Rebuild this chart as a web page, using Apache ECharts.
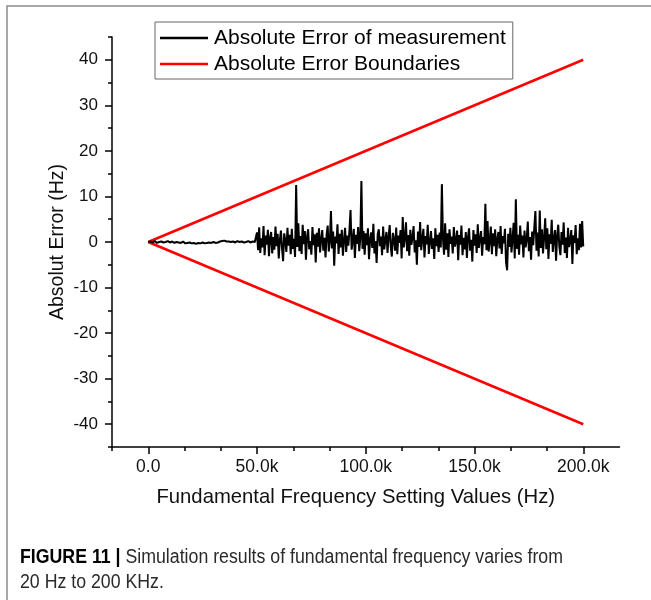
<!DOCTYPE html>
<html>
<head>
<meta charset="utf-8">
<script src="https://cdn.jsdelivr.net/npm/echarts@6/dist/echarts.min.js"></script>
<style>
html,body{margin:0;padding:0;background:#fff;}
#chart{width:651px;height:600px;}
</style>
</head>
<body>
<div id="chart"></div>
<script>
// ---- data ----
const legendNames = ['Absolute Error of measurement', 'Absolute Error Boundaries'];
// 20 Hz .. 49 kHz, 1 kHz step (small error region)
const lowValues = [0.0,0.1,-0.1,0.2,-0.2,0.0,0.1,-0.1,0.0,0.2,-0.1,0.1,-0.2,0.0,-0.1,-0.2,0.1,-0.3,-0.2,-0.1,
  -0.3,-0.2,-0.4,-0.2,-0.3,-0.1,-0.3,-0.2,-0.1,-0.2,0.0,-0.2,-0.1,0.1,0.2,0.3,0.1,0.1,0.0,0.1,
  -0.1,0.2,0.0,0.1,-0.1,0.0,0.2,-0.1,0.1,0.0];
// 50 kHz .. 200 kHz, 500 Hz step
const highValues = [
  2.1,-1.8,3.2,-2.4,0.8,-1.2,3.5,-2.9,1.4,-0.6,2.7,-3.1,0.9,2.2,-2.5,1.1,-1.7,3.4,-0.9,1.8,
  -3.6,0.4,2.5,-1.3,-4.2,1.9,0.3,-2.2,3.1,-0.8,1.6,-2.7,2.9,-1.5,0.7,-3.3,12.5,-1.1,4.1,-2.0,
  1.3,-2.6,3.8,-0.5,2.4,-3.9,1.0,2.8,-1.6,0.2,-2.8,3.3,-0.7,1.7,-4.5,2.0,-1.0,3.0,-2.3,0.6,
  2.6,-1.9,0.9,-3.4,1.5,3.6,-2.1,0.0,6.8,-1.4,2.3,-5.2,1.2,-0.3,3.9,-2.6,1.8,-1.2,2.7,-3.0,
  0.5,3.1,-2.2,1.4,-0.8,2.5,7.0,-1.7,0.3,2.9,-3.5,1.6,-0.4,3.3,-2.0,0.8,13.4,-1.5,2.4,-2.8,
  1.9,-0.7,3.0,-3.8,0.6,2.1,-1.3,4.0,-2.5,0.2,-4.6,1.7,2.8,-0.9,1.2,-2.9,3.4,-1.6,0.4,2.2,
  -2.4,1.1,3.7,-1.0,-3.2,2.0,0.5,-1.9,3.2,-2.7,1.4,-0.2,2.6,-3.6,5.5,-1.2,0.9,4.3,-2.0,1.5,
  -3.0,2.7,-0.6,1.0,3.5,-2.3,0.4,-5.0,2.3,-1.1,4.4,-1.8,0.7,2.9,-3.4,1.3,-0.5,3.8,-2.6,0.1,
  2.4,-1.5,0.8,-3.7,3.0,-0.9,1.6,-2.2,2.1,-1.2,12.7,0.6,-2.8,4.1,-1.7,1.9,-3.3,2.8,-0.4,1.2,
  -2.5,3.3,-1.0,0.3,2.5,-4.0,1.5,-0.6,3.6,-2.9,0.9,-1.6,2.2,-3.5,1.0,3.0,-1.9,0.5,-4.3,2.6,
  -0.8,1.7,-2.4,3.9,-1.3,0.7,2.4,-3.0,1.1,-0.5,8.4,-1.8,4.6,-2.1,0.2,3.4,-2.7,1.9,-0.9,2.8,
  -3.1,0.6,2.2,-1.4,3.5,-2.6,1.3,-0.3,2.9,-4.4,-6.2,1.8,-1.1,3.1,-2.3,0.8,4.2,-3.6,9.4,-1.5,
  1.6,-2.8,3.6,-0.5,1.4,-3.4,2.5,-1.2,0.5,4.5,-2.0,1.1,-3.9,2.3,-0.7,3.2,6.8,-1.9,2.1,-3.2,
  6.9,-1.3,2.8,-2.5,0.9,5.2,-1.6,3.0,-3.7,1.7,-0.4,4.9,-2.2,0.7,2.6,-4.1,1.4,3.8,-1.0,-2.9,
  2.2,-0.6,4.3,-2.4,1.0,-3.5,3.1,-1.1,0.3,2.6,-4.8,1.5,-0.2,3.7,-2.7,0.8,-1.8,4.0,-1.2,4.6,
  -1.0];
const boundaryFreq = [20, 200000];
const upperBound = [0.004, 40];
const lowerBound = [-0.004, -40];
const xMajorTicks = [0, 50000, 100000, 150000, 200000];
const yMajorTicks = [-40, -30, -20, -10, 0, 10, 20, 30, 40];
const captionBold = 'FIGURE 11 |';
const captionLine1 = ' Simulation results of fundamental frequency varies from';
const captionLine2 = '20 Hz to 200 KHz.';

// ---- build series data ----
const measData = [];
lowValues.forEach((v, i) => measData.push([i === 0 ? 20 : i * 1000, v]));
highValues.forEach((v, i) => measData.push([50000 + i * 500, v]));
const upperData = boundaryFreq.map((f, i) => [f, upperBound[i]]);
const lowerData = boundaryFreq.map((f, i) => [f, lowerBound[i]]);

const xStep = 50000 / 3;
const xMin = -xStep, xMax = 200000 + xStep;
const xMinorTicks = [];
for (let k = -1; k <= 13; k++) if (k % 3 !== 0) xMinorTicks.push(k * xStep);
const yMinorTicks = [];
for (let v = -45; v <= 45; v += 10) yMinorTicks.push(v);

const FONT = "'Liberation Sans', Arial, sans-serif";
const axisCol = '#000';

// caption condensed to the reference width
const mctx = document.createElement('canvas').getContext('2d');
mctx.font = "bold 19.5px 'Liberation Sans'";
const wb = mctx.measureText(captionBold).width;
mctx.font = "19.5px 'Liberation Sans'";
const wr = mctx.measureText(captionLine1).width;
const capScale = 543 / (wb + wr);

const chart = echarts.init(document.getElementById('chart'), null, {renderer: 'canvas'});
chart.setOption({
  animation: false,
  backgroundColor: '#fff',
  grid: {left: 112, right: 31.5, top: 37, bottom: 153, containLabel: false},
  legend: {
    left: 155, top: 22, orient: 'vertical',
    data: legendNames,
    icon: 'rect', itemWidth: 48, itemHeight: 2.5, itemGap: 2,
    padding: [4, 7, 3, 5],
    borderColor: '#666', borderWidth: 1,
    textStyle: {fontSize: 21, lineHeight: 24, fontFamily: FONT, color: '#000', padding: [0, 0, 0, 1]},
    selectedMode: false
  },
  xAxis: [{
    type: 'value', min: xMin, max: xMax, position: 'bottom',
    axisLine: {onZero: false, lineStyle: {color: axisCol, width: 1.5}},
    axisTick: {customValues: xMajorTicks, length: 7, lineStyle: {color: axisCol, width: 1.5}},
    axisLabel: {customValues: xMajorTicks, margin: 11, fontSize: 17.5, fontFamily: FONT, color: '#111',
      formatter: v => v === 0 ? '0.0' : (v / 1000).toFixed(1) + 'k'},
    splitLine: {show: false},
    name: 'Fundamental Frequency Setting Values (Hz)', nameLocation: 'middle', nameGap: 40,
    nameMoveOverlap: false,
    nameTextStyle: {fontSize: 20.3, fontFamily: FONT, color: '#111', padding: [0, 20, 0, 0]}
  }, {
    type: 'value', min: xMin, max: xMax, position: 'bottom',
    axisLine: {show: false, onZero: false},
    axisTick: {customValues: xMinorTicks, length: 4, lineStyle: {color: axisCol, width: 1.5}},
    axisLabel: {show: false},
    splitLine: {show: false}
  }],
  yAxis: [{
    type: 'value', min: -45, max: 45, position: 'left',
    axisLine: {show: true, onZero: false, lineStyle: {color: axisCol, width: 1.5}},
    axisTick: {show: true, customValues: yMajorTicks, length: 7, lineStyle: {color: axisCol, width: 1.5}},
    axisLabel: {customValues: yMajorTicks, margin: 14, fontSize: 17, fontFamily: FONT, color: '#111'},
    splitLine: {show: false},
    name: 'Absolut Error (Hz)', nameLocation: 'middle', nameGap: 44, nameRotate: 90,
    nameMoveOverlap: false,
    nameTextStyle: {fontSize: 19.5, fontFamily: FONT, color: '#111'}
  }, {
    type: 'value', min: -45, max: 45, position: 'left',
    axisLine: {show: false, onZero: false},
    axisTick: {show: true, customValues: yMinorTicks, length: 4, lineStyle: {color: axisCol, width: 1.5}},
    axisLabel: {show: false},
    splitLine: {show: false}
  }],
  series: [{
    name: legendNames[0], type: 'line', data: measData, showSymbol: false,
    lineStyle: {color: '#000', width: 2}, itemStyle: {color: '#000'}, z: 3
  }, {
    name: legendNames[1], type: 'line', data: upperData, showSymbol: false,
    lineStyle: {color: '#ff0000', width: 2.5}, itemStyle: {color: '#ff0000'}, z: 2
  }, {
    name: legendNames[1], type: 'line', data: lowerData, showSymbol: false,
    lineStyle: {color: '#ff0000', width: 2.5}, itemStyle: {color: '#ff0000'}, z: 2
  }],
  graphic: [{
    type: 'rect', silent: true, z: -1,
    shape: {x: 7, y: 6, width: 700, height: 700},
    style: {fill: 'none', stroke: '#8a8a8a', lineWidth: 1.5}
  }, {
    type: 'text', x: 20, y: 545, scaleX: capScale, silent: true,
    style: {
      x: 0, y: 0,
      text: '{b|' + captionBold + '}' + captionLine1 + '\n' + captionLine2,
      fontSize: 19.5, fontFamily: FONT, verticalAlign: 'top',
      fill: '#2a2a2a', lineHeight: 25,
      rich: {b: {fontWeight: 'bold', fontSize: 19.5, lineHeight: 25, fontFamily: FONT, fill: '#000'}}
    }
  }]
});
</script>
</body>
</html>
